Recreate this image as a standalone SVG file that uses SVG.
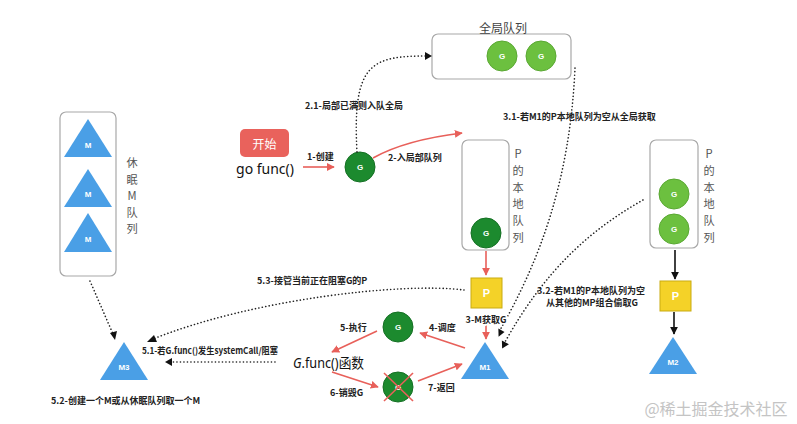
<svg xmlns="http://www.w3.org/2000/svg" width="797" height="424" viewBox="0 0 797 424">
<defs>
<style>
.box{fill:#fff;stroke:#a8a8a8;stroke-width:1.2}
.gl{fill:#6cc03f;stroke:#5aa833;stroke-width:1}
.gd{fill:#1c8a2e;stroke:#157024;stroke-width:1}
.p{fill:#f4d228;stroke:#c9ab10;stroke-width:1}
.m{fill:#4a9fe6}
.in{font-family:"Liberation Sans",Arial,sans-serif;font-weight:bold;fill:#fff;text-anchor:middle;dominant-baseline:central}
.lbl{font-family:"Noto Sans CJK SC",sans-serif;font-weight:bold;font-size:9px;fill:#222;dominant-baseline:central}
.vt{font-family:"Noto Sans CJK SC",sans-serif;font-size:11.2px;fill:#555;text-anchor:middle;dominant-baseline:central}
.red{fill:none;stroke:#e8605a;stroke-width:1.6}
.blk{fill:none;stroke:#111;stroke-width:1.6}
.dot{fill:none;stroke:#222;stroke-width:1.6;stroke-dasharray:0.1 3.4;stroke-linecap:round}
</style>
<marker id="ar" viewBox="0 0 10 10" refX="9" refY="5" markerWidth="8" markerHeight="8" markerUnits="userSpaceOnUse" orient="auto"><path d="M0,0 L10,5 L0,10 z" fill="#e8605a"/></marker>
<marker id="ab" viewBox="0 0 10 10" refX="9" refY="5" markerWidth="8" markerHeight="8" markerUnits="userSpaceOnUse" orient="auto"><path d="M0,0 L10,5 L0,10 z" fill="#111"/></marker>
</defs>
<rect width="797" height="424" fill="#fff"/>

<g id="global-queue">
<rect class="box" x="432" y="34" width="139" height="45" rx="6"/>
<text class="vt" x="503" y="27" style="font-size:12px;fill:#444">全局队列</text>
<circle class="gl" cx="502" cy="56" r="15"/><text class="in" x="502" y="56" font-size="8">G</text>
<circle class="gl" cx="541" cy="56" r="15"/><text class="in" x="541" y="56" font-size="8">G</text>
</g>

<g id="sleep-queue">
<rect class="box" x="60" y="112" width="56" height="164" rx="6"/>
<polygon class="m" points="88,119 112,157 64,157"/><text class="in" x="88" y="145" font-size="8">M</text>
<polygon class="m" points="88,169 112,207 64,207"/><text class="in" x="88" y="194" font-size="8">M</text>
<polygon class="m" points="88,213 112,252 64,252"/><text class="in" x="88" y="239" font-size="8">M</text>
<text class="vt"><tspan x="132" y="162">休</tspan><tspan x="132" y="178.5">眠</tspan><tspan x="132" y="195">M</tspan><tspan x="132" y="211.5">队</tspan><tspan x="132" y="228">列</tspan></text>
</g>

<g id="start">
<rect x="240" y="129" width="49" height="28" rx="5" fill="#e9625c"/>
<text x="264.5" y="143" font-family="Noto Sans CJK SC,sans-serif" font-size="12" fill="#fff" text-anchor="middle" dominant-baseline="central">开始</text>
<text x="265" y="168" font-family="Noto Sans,sans-serif" font-size="14" fill="#111" text-anchor="middle" dominant-baseline="central">go func()</text>
</g>

<g id="new-g">
<circle class="gd" cx="360" cy="167" r="15"/><text class="in" x="360" y="167" font-size="8">G</text>
</g>

<g id="p-local-queue">
<rect class="box" x="462" y="140" width="47" height="110" rx="6"/>
<circle class="gd" cx="486" cy="233" r="15"/><text class="in" x="486" y="233" font-size="8">G</text>
<text class="vt"><tspan x="518" y="153">P</tspan><tspan x="518" y="169.8">的</tspan><tspan x="518" y="186.6">本</tspan><tspan x="518" y="203.4">地</tspan><tspan x="518" y="220.2">队</tspan><tspan x="518" y="237">列</tspan></text>
</g>

<g id="p1">
<rect class="p" x="471" y="278" width="31" height="30"/><text class="in" x="486.5" y="293" font-size="11">P</text>
</g>

<g id="m1">
<polygon class="m" points="485,342 509,379 461,379"/><text class="in" x="485" y="367" font-size="8">M1</text>
</g>

<g id="p-local-queue-2">
<rect class="box" x="650" y="140" width="48" height="108" rx="6"/>
<circle class="gl" cx="674" cy="194" r="15"/><text class="in" x="674" y="194" font-size="8">G</text>
<circle class="gl" cx="674" cy="229" r="15"/><text class="in" x="674" y="229" font-size="8">G</text>
<text class="vt"><tspan x="709" y="153">P</tspan><tspan x="709" y="169.8">的</tspan><tspan x="709" y="186.6">本</tspan><tspan x="709" y="203.4">地</tspan><tspan x="709" y="220.2">队</tspan><tspan x="709" y="237">列</tspan></text>
</g>

<g id="p2">
<rect class="p" x="660" y="281" width="31" height="30"/><text class="in" x="675.5" y="296" font-size="11">P</text>
</g>

<g id="m2">
<polygon class="m" points="673,337 697,374 649,374"/><text class="in" x="673" y="362" font-size="8">M2</text>
</g>

<g id="g-run">
<circle class="gd" cx="398" cy="327" r="15"/><text class="in" x="398" y="327" font-size="8">G</text>
</g>

<g id="g-func">
<text x="293" y="362" textLength="71" lengthAdjust="spacingAndGlyphs" font-family="Noto Sans,Noto Sans CJK SC,sans-serif" font-size="14" fill="#111" dominant-baseline="central"><tspan font-style="italic">G</tspan>.func()函数</text>
</g>

<g id="g-dead">
<circle class="gd" cx="398" cy="387" r="15"/><text class="in" x="398" y="387" font-size="8">G</text>
<line x1="384" y1="373" x2="413" y2="401" stroke="#e8605a" stroke-width="1.6"/>
<line x1="413" y1="373" x2="384" y2="401" stroke="#e8605a" stroke-width="1.6"/>
</g>

<g id="m3">
<polygon class="m" points="124,342 148,380 100,380"/><text class="in" x="124" y="367" font-size="8">M3</text>
</g>

<g id="connectors">
<path class="red" d="M303,167 L334,167" marker-end="url(#ar)"/>
<path class="red" d="M373,158 Q405,140 462,133" marker-end="url(#ar)"/>
<path class="dot" d="M357,152 C352,62 372,56 428,56"/>
<path d="M425,52 L432,56 L425,60 z" fill="#111"/>
<path class="red" d="M486,251 L486,275" marker-end="url(#ar)"/>
<path class="red" d="M486,322 L486,339" marker-end="url(#ar)"/>
<path class="blk" d="M675,250 L675,279" marker-end="url(#ab)"/>
<path class="blk" d="M674,312 L674,334" marker-end="url(#ab)"/>
<path class="dot" d="M575,68 C570,180 540,260 500,330"/>
<path d="M496,330 L500,337 L503,330 z" fill="#111" transform="rotate(28 500 334)"/>
<path class="dot" d="M643,200 C590,230 545,270 505,342"/>
<path d="M500,342 L504,349 L508,342 z" fill="#111" transform="rotate(28 504 345)"/>
<path class="red" d="M465,348 L420,333" marker-end="url(#ar)"/>
<path class="red" d="M377,331 L332,352" marker-end="url(#ar)"/>
<path class="red" d="M332,372 L378,387" marker-end="url(#ar)"/>
<path class="red" d="M418,381 L462,364" marker-end="url(#ar)"/>
<path class="dot" d="M90,281 L113,334"/>
<path d="M110,333 L115,340 L117,331 z" fill="#111"/>
<path class="dot" d="M275,362 L172,362"/>
<path d="M172,358 L165,362 L172,366 z" fill="#111"/>
<path class="dot" d="M464,290 C400,282 250,300 153,339"/>
<path d="M154,335 L147,342 L157,342 z" fill="#111"/>
</g>

<g id="labels">
<text class="lbl" x="305" y="105">2.1-局部已满则入队全局</text>
<text class="lbl" x="307" y="156">1-创建</text>
<text class="lbl" x="388" y="157">2-入局部队列</text>
<text class="lbl" x="503" y="116">3.1-若M1的P本地队列为空从全局获取</text>
<text class="lbl" x="591" y="290" text-anchor="middle">3.2-若M1的P本地队列为空</text>
<text class="lbl" x="592" y="302" text-anchor="middle">从其他的MP组合偷取G</text>
<text class="lbl" x="486" y="319" text-anchor="middle" style="paint-order:stroke;stroke:#fff;stroke-width:3px">3-M获取G</text>
<text class="lbl" x="429" y="327">4-调度</text>
<text class="lbl" x="340" y="327">5-执行</text>
<text class="lbl" x="330" y="392">6-销毁G</text>
<text class="lbl" x="428" y="387">7-返回</text>
<text class="lbl" x="257" y="280">5.3-接管当前正在阻塞G的P</text>
<text class="lbl" x="142" y="350" textLength="136" lengthAdjust="spacingAndGlyphs">5.1-若G.func()发生systemCall/阻塞</text>
<text class="lbl" x="51" y="400">5.2-创建一个M或从休眠队列取一个M</text>
</g>

<text x="716" y="408" font-family="Noto Sans CJK SC,sans-serif" font-size="16" fill="#c4c4c4" text-anchor="middle" dominant-baseline="central">@稀土掘金技术社区</text>
</svg>
